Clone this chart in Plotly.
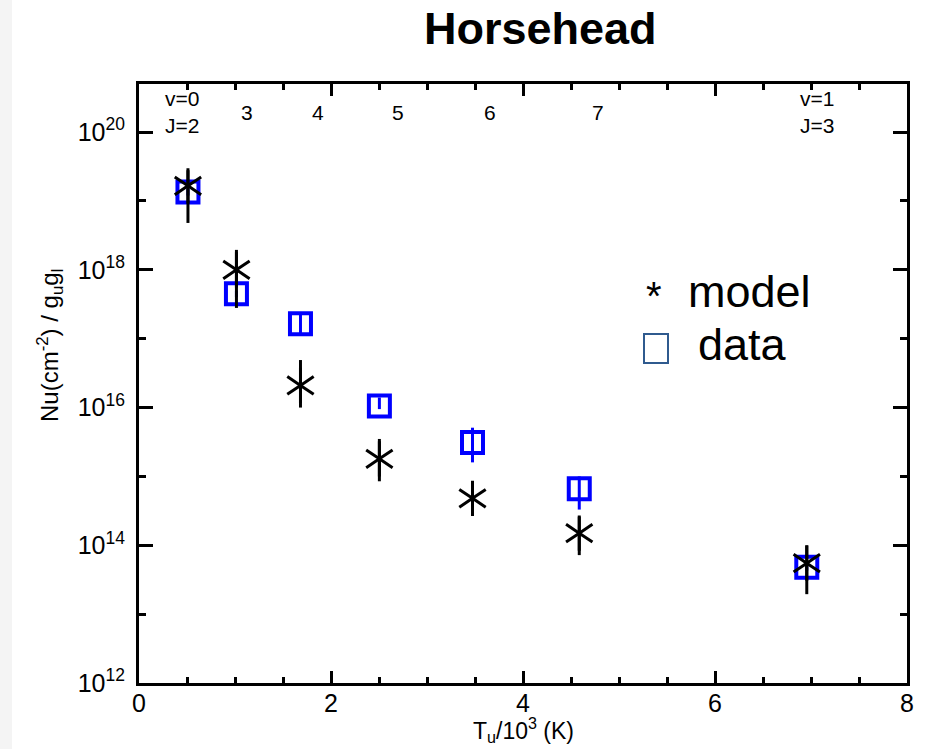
import plotly.graph_objects as go

# H2 upper-level energies (10^3 K) for S(0)..S(5) and 1-0 S(1)
t_upper = [0.510, 1.015, 1.682, 2.504, 3.474, 4.586, 6.956]

# Model column densities N_u / (g_u g_l) with their ranges
model_n = [1.66e19, 1.0e18, 2.1e16, 1.8e15, 4.8e14, 1.5e14, 5.5e13]
model_lo = [4.8e18, 2.8e17, 1.0e16, 8.5e14, 2.7e14, 7.2e13, 1.95e13]
model_hi = [2.8e19, 1.95e18, 4.9e16, 3.5e15, 8.3e14, 2.6e14, 1.0e14]

# Observed column densities with their ranges
data_n = [1.35e19, 4.5e17, 1.65e17, 1.05e16, 3.1e15, 6.6e14, 4.8e13]
data_lo = [1.2e19, 4.0e17, 1.2e17, 9.5e15, 1.6e15, 3.3e14, 4.3e13]
data_hi = [1.5e19, 5.0e17, 2.3e17, 1.4e16, 5.1e15, 1.0e15, 5.3e13]

# Transition labels along the top of the frame
level_labels = ["v=0<br>J=2", "3", "4", "5", "6", "7", "v=1<br>J=3"]
level_label_x = [0.45, 1.12, 1.86, 2.70, 3.66, 4.78, 7.06]

y_major = [1e12, 1e14, 1e16, 1e18, 1e20]
y_major_text = ["10<sup>12</sup>", "10<sup>14</sup>", "10<sup>16</sup>",
                "10<sup>18</sup>", "10<sup>20</sup>"]
y_minor = [1e13, 1e15, 1e17, 1e19]

W, H = 928, 749
L, R, T, B = 139, 21, 84, 66
PW, PH = W - L - R, H - T - B


def px(xp):
    return (xp - L) / PW


def py(yp):
    return (H - B - yp) / PH


FONT = "Liberation Sans, Arial, sans-serif"

fig = go.Figure()

fig.add_trace(go.Scatter(
    x=t_upper, y=data_n, mode="markers", name="data",
    marker=dict(symbol="square-open", size=21, color="#0000ff",
                line=dict(width=4, color="#0000ff")),
    error_y=dict(type="data", symmetric=False,
                 array=[h - v for h, v in zip(data_hi, data_n)],
                 arrayminus=[v - l for v, l in zip(data_n, data_lo)],
                 color="#0000ff", thickness=3, width=0),
    showlegend=False,
))

fig.add_trace(go.Scatter(
    x=t_upper, y=model_n, mode="markers", name="model",
    marker=dict(symbol="y-up-open", size=22, color="black",
                line=dict(width=3, color="black")),
    error_y=dict(type="data", symmetric=False,
                 array=[h - v for h, v in zip(model_hi, model_n)],
                 arrayminus=[v - l for v, l in zip(model_n, model_lo)],
                 color="black", thickness=3, width=0),
    showlegend=False,
))
fig.add_trace(go.Scatter(
    x=t_upper, y=model_n, mode="markers", name="model",
    marker=dict(symbol="y-down-open", size=22, color="black",
                line=dict(width=3, color="black")),
    showlegend=False,
))

axis_common = dict(
    showline=True, linecolor="black", linewidth=3, mirror="ticks",
    ticks="inside", tickcolor="black", tickwidth=3,
    showgrid=False, zeroline=False,
    tickfont=dict(family=FONT, size=25, color="black"),
)

fig.update_xaxes(
    range=[0, 8], tickmode="array", tickvals=[0, 2, 4, 6, 8],
    ticklen=12, ticklabelstandoff=-4,
    minor=dict(tickmode="array", tickvals=[0.5, 1, 1.5, 2.5, 3, 3.5, 4.5, 5, 5.5, 6.5, 7, 7.5],
               ticks="inside", ticklen=6, tickwidth=3, tickcolor="black", showgrid=False),
    **axis_common,
)
fig.update_yaxes(
    type="log", range=[12, 20.699], tickmode="array",
    tickvals=y_major, ticktext=y_major_text, ticklen=14,
    ticklabelstandoff=6,
    minor=dict(tickmode="array", tickvals=y_minor,
               ticks="inside", ticklen=7, tickwidth=3, tickcolor="black", showgrid=False),
    **axis_common,
)

annotations = []
for txt, xv in zip(level_labels, level_label_x):
    annotations.append(dict(
        x=xv, y=py(112), xref="x", yref="paper", text=txt, showarrow=False,
        xanchor="center", yanchor="middle",
        font=dict(family=FONT, size=21, color="black"),
    ))

annotations += [
    dict(x=px(540), y=py(29), xref="paper", yref="paper", text="<b>Horsehead</b>",
         showarrow=False, xanchor="center", yanchor="middle",
         font=dict(family=FONT, size=45, color="black")),
    dict(x=px(50), y=py(346), xref="paper", yref="paper",
         text="Nu(cm<sup>-2</sup>) / g<sub>u</sub>g<sub>l</sub>",
         textangle=-90, showarrow=False, xanchor="center", yanchor="middle",
         font=dict(family=FONT, size=24, color="black")),
    dict(x=px(523), y=py(730), xref="paper", yref="paper",
         text="T<sub>u</sub>/10<sup>3</sup> (K)",
         showarrow=False, xanchor="center", yanchor="middle",
         font=dict(family=FONT, size=23, color="black")),
    dict(x=px(654), y=py(296), xref="paper", yref="paper", text="*",
         showarrow=False, xanchor="center", yanchor="middle",
         font=dict(family=FONT, size=40, color="black")),
    dict(x=px(686), y=py(291), xref="paper", yref="paper", text="model",
         showarrow=False, xanchor="left", yanchor="middle",
         font=dict(family=FONT, size=45, color="black")),
    dict(x=px(696), y=py(344), xref="paper", yref="paper", text="data",
         showarrow=False, xanchor="left", yanchor="middle",
         font=dict(family=FONT, size=45, color="black")),
]

shapes = [
    # light strip along the left edge of the page
    dict(type="rect", xref="paper", yref="paper", x0=px(0), x1=px(12),
         y0=py(H), y1=py(0), fillcolor="#f4f4f4", line=dict(width=0), layer="below"),
    # legend box for the data symbol
    dict(type="rect", xref="paper", yref="paper", x0=px(644), x1=px(668),
         y0=py(363), y1=py(334), line=dict(color="#2f5a8e", width=2),
         fillcolor="rgba(0,0,0,0)"),
]

fig.update_layout(
    width=W, height=H,
    margin=dict(l=L, r=R, t=T, b=B),
    paper_bgcolor="white", plot_bgcolor="white",
    annotations=annotations, shapes=shapes,
    showlegend=False,
)

fig.write_html("out.html")
